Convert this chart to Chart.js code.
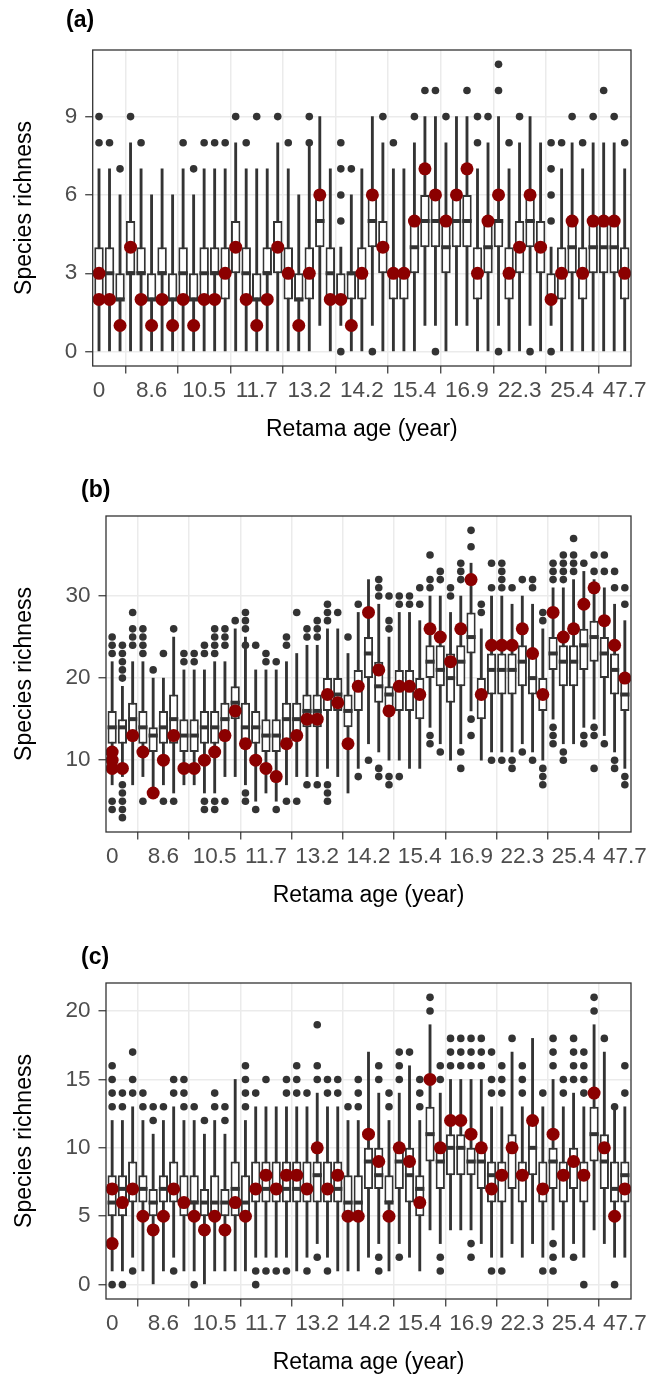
<!DOCTYPE html>
<html lang="en">
<head>
<meta charset="UTF-8">
<title>Species richness by Retama age</title>
<script src="https://cdn.jsdelivr.net/npm/chart.js"></script>
<style>
  body { margin: 0; background: #fff; font-family: 'Liberation Sans', Arial, sans-serif; }
  .page { position: relative; width: 650px; height: 1381px; overflow: hidden; }
  .panel { position: absolute; left: 0; }
  .tag { position: absolute; font-weight: bold; font-size: 23px; line-height: 1; color: #000; }
</style>
</head>
<body>
<div class="page">
  <canvas class="panel" id="chartA" width="650" height="448" style="top:0"></canvas>
  <canvas class="panel" id="chartB" width="650" height="448" style="top:466px"></canvas>
  <canvas class="panel" id="chartC" width="650" height="448" style="top:933px"></canvas>
  <div class="tag" style="left:66px; top:8px">(a)</div>
  <div class="tag" style="left:81px; top:478px">(b)</div>
  <div class="tag" style="left:81px; top:945px">(c)</div>
</div>

<script>
// age classes on the x axis, only every 5th one is labelled
const tickLabels = ['0', '8.6', '10.5', '11.7', '13.2', '14.2', '15.4', '16.9', '22.3', '25.4', '47.7'];
const labelEvery = 5;

// box stats per age class: [lower whisker, q1, median, q3, upper whisker]
const statsA = [
  [0,2,3,4,7],[0,2,3,4,7],[0,2,2,3,6],[0,3,3,5,8],[0,3,3,4,7],[0,2,2,3,6],[0,3,3,4,7],[0,2,2,3,6],[0,2,3,4,7],[0,2,2,3,6],
  [0,2,3,4,7],[0,3,3,4,7],[0,2,3,4,7],[0,3,4,5,8],[0,2,3,4,7],[0,2,2,3,7],[0,3,3,4,7],[0,3,4,5,8],[0,2,3,4,7],[0,2,2,3,6],
  [0,2,3,4,8],[1,4,5,6,9],[0,2,3,4,7],[1,2,2,3,4],[0,2,3,3,6],[0,2,3,4,7],[1,4,5,6,9],[0,3,4,5,8],[0,2,3,3,7],[0,2,3,3,7],
  [0,3,4,5,8],[1,4,5,6,9],[1,4,5,6,9],[0,3,4,5,8],[1,4,5,6,9],[1,4,5,6,9],[0,2,3,4,7],[0,3,4,5,8],[1,4,5,5,9],[0,2,3,4,7],
  [0,3,4,5,8],[1,4,5,6,9],[0,3,4,5,8],[1,2,2,3,4],[0,2,3,4,7],[0,3,4,5,8],[0,2,3,4,7],[0,3,4,5,8],[0,3,4,5,8],[0,3,4,5,8],
  [0,2,3,4,7]
];
const outliersA = [
  [9,8],[8],[7],[9],[8],[],[],[],[8],[7],
  [8],[8],[8],[9],[8],[9],[],[9],[8],[],
  [9,8],[],[],[8,7,6,5,0],[7],[],[0],[9],[8],[],
  [9],[10],[10,0],[9],[],[10],[9,8],[9],[11,10,0],[8],
  [9],[0],[],[8,7,6,5,0],[8],[9],[8],[9],[10],[9],
  [8]
];
const observedA = [
  [3,2],[2],[1],[4],[2],[1],[2],[1],[2],[1],
  [2],[2],[3],[4],[2],[1],[2],[4],[3],[1],
  [3],[6],[2],[2],[1],[3],[6],[4],[3],[3],
  [5],[7],[6],[5],[6],[7],[3],[5],[6],[3],
  [4],[6],[4],[2],[3],[5],[3],[5],[5],[5],
  [3]
];

const statsB = [
  [7,12,14,16,22],[8,12,14,15,19],[7,13,15,17,22],[8,12,14,16,22],[6,11,13,14,20],[7,12,14,16,20],[6,12,15,18,25],[7,11,13,15,21],[7,11,13,15,21],[6,12,14,16,21],
  [6,12,14,16,22],[8,13,15,17,22],[8,15,17,19,26],[7,12,14,17,25],[5,12,14,16,21],[6,11,13,15,21],[5,11,13,15,21],[7,12,15,17,22],[8,13,15,17,23],[8,14,16,18,24],
  [8,14,16,18,24],[9,16,18,20,26],[8,16,18,20,26],[6,14,16,18,23],[9,16,19,21,28],[12,20,23,25,32],[11,17,19,22,29],[10,16,18,19,25],[10,16,19,21,28],[9,16,19,21,28],
  [9,15,18,20,27],[14,20,22,24,30],[12,19,21,24,30],[10,17,20,23,28],[12,19,22,24,30],[16,23,25,28,34],[10,15,18,20,26],[11,18,21,23,30],[11,18,21,23,30],[11,18,21,23,29],
  [12,19,22,24,30],[11,18,20,23,29],[10,16,18,20,26],[15,21,23,25,31],[12,19,22,24,31],[12,19,22,24,32],[14,21,24,26,33],[15,22,25,27,32],[13,20,23,25,31],[11,18,21,23,29],
  [9,16,18,20,27]
];
const outliersB = [
  [25,24,23,5,4],[24,23,22,21,20,7,6,5,4,3],[28,26,25,24],[26,25,24,23,5],[21],[23,5],[26,5],[23,22],[23,22],[24,23,5,4],
  [26,25,24,23,5,4],[26,25,24,5],[27],[28,27,26,24,6,5],[24,4],[23,22],[22,4],[25,24,5],[28,5],[26,25,7],
  [27,26,25,7],[29,28,27,7,6,5],[28],[25],[29,8],[10],[32,31,30,9,8],[30,27,26,8,7],[30,29,8],[30,29],
  [31,29],[35,32,31,13,12],[33,32,11],[31,30],[34,33,32,11,9],[38,36,15,13],[29,28],[34,31,10],[34,33,32,31,10],[31,10,9],
  [32,11],[32,31,10],[28,27,9,8,7],[34,33,32,14,13,12],[35,34,33,32,11,10],[37,35,34,33],[34,13,12],[35,33,14,13,9],[35,33,12],[33,31,10,9],
  [31,29,8,7]
];
const observedB = [
  [11,10,9],[9],[13],[11],[6],[10],[13],[9],[9],[10],
  [11],[13],[16],[12],[10],[9],[8],[12],[13],[15],
  [15],[18],[17],[12],[19],[28],[21],[16],[19],[19],
  [18],[26],[25],[22],[26],[32],[18],[24],[24],[24],
  [26],[23],[18],[28],[25],[26],[29],[31],[27],[24],
  [20]
];

const statsC = [
  [1,5,6,8,12],[1,5,7,8,12],[2,6,7,9,13],[1,6,7,8,12],[0,5,6,7,11],[1,6,7,8,12],[2,6,7,9,13],[1,5,6,8,12],[1,6,6,8,12],[0,5,6,7,11],
  [1,5,6,8,12],[1,5,6,7,11],[1,5,7,9,15],[1,5,6,8,12],[2,6,7,9,13],[2,6,7,9,13],[2,6,7,9,13],[2,6,7,9,13],[1,6,7,9,13],[2,6,7,9,13],
  [3,6,8,9,14],[2,6,7,9,13],[1,6,7,9,13],[1,5,6,8,12],[1,5,6,8,12],[2,7,9,10,17],[3,7,8,10,14],[1,6,6,8,12],[3,7,9,10,14],[2,6,8,10,16],
  [1,5,7,8,12],[4,9,11,13,19],[3,7,9,10,14],[4,8,10,11,15],[4,8,10,11,15],[4,8,9,10,15],[3,7,9,10,15],[2,6,8,9,13],[2,6,8,9,13],[3,7,10,11,17],
  [2,6,8,9,13],[3,8,10,12,18],[2,6,7,9,13],[4,7,9,10,15],[2,6,8,9,13],[3,7,9,10,14],[2,6,8,9,13],[4,9,11,13,19],[3,7,9,11,17],[2,6,7,9,13],
  [2,6,8,9,13]
];
const outliersC = [
  [16,15,14,13,0],[14,13,0],[17,15,14,1],[14,13],[13,12],[13],[15,14,1],[15,14,13],[13,0],[12],
  [14,13],[13,12],[],[16,15,14,13],[14,1,0],[15,1],[1],[15,14,1],[16,15,14],[14,1],
  [19,16,15,2],[15,14,1],[15,14],[13],[15,14,13],[],[16,15,2,1],[14,13],[17,16,15,2],[17],
  [15,14,13],[21,20],[16,15,2,1],[18,17,16],[18,17,16],[18,17,16,3,2],[18,17,16],[17,15,14,1],[16,15,14,1],[18],
  [16,15,14],[],[14,1],[18,17,16,3,2,1],[15,14],[18,17,16,15,2],[17,16,15,14,0],[21,20],[18],[13,0],
  [16,14]
];
const observedC = [
  [7,3],[6],[7],[5],[4],[5],[7],[6],[5],[4],
  [5],[4],[6],[5],[7],[8],[7],[8],[8],[7],
  [10],[7],[8],[5],[5],[11],[9],[5],[10],[9],
  [6],[15],[10],[12],[12],[11],[10],[7],[8],[10],
  [8],[12],[7],[11],[8],[9],[8],[14],[10],[5],
  [7]
];

Chart.defaults.font.family = "'Liberation Sans', Arial, sans-serif";

const INK = '#333333';
const OBS_RED = '#8b0000';

// frame around the plotting area, drawn on top of the marks
const panelBorder = {
  id: 'panelBorder',
  afterDatasetsDraw(chart) {
    const { ctx, chartArea: a } = chart;
    ctx.save();
    ctx.strokeStyle = INK;
    ctx.lineWidth = 1.3;
    ctx.strokeRect(a.left, a.top, a.right - a.left, a.bottom - a.top);
    ctx.restore();
  }
};

function boxWidth(chart) {
  const x = chart.scales.x;
  return x.getPixelForValue(1) - x.getPixelForValue(0);
}

// yAxisWidth keeps the plotting areas of the three panels aligned on the right
function drawPanel(id, stats, outliers, observed, yMin, yMax, yTicks, yAxisWidth) {
  const whiskers = stats.map((s, i) => ({ x: i, y: [s[0], s[4]] }));
  const boxes = stats.map((s, i) => ({ x: i, y: [s[1], s[3]] }));
  const medians = stats.map((s, i) => ({ x: i, y: s[2] }));
  const outPts = outliers.flatMap((vals, i) => vals.map(v => ({ x: i, y: v })));
  const obsPts = observed.flatMap((vals, i) => vals.map(v => ({ x: i, y: v })));

  new Chart(document.getElementById(id), {
    type: 'bar',
    data: {
      datasets: [
        { type: 'bar', data: whiskers, grouped: false, barThickness: 2.2, backgroundColor: INK, order: 5 },
        { type: 'bar', data: boxes, grouped: false, categoryPercentage: 1, barPercentage: 0.9,
          backgroundColor: '#ffffff', borderColor: INK, borderWidth: 2, borderSkipped: false, order: 4 },
        { type: 'scatter', data: medians, pointStyle: 'line',
          pointBorderColor: INK, pointBorderWidth: 4,
          pointRadius: ctx => boxWidth(ctx.chart) * 0.45, order: 3 },
        { type: 'scatter', data: outPts, pointRadius: 3.8,
          pointBackgroundColor: INK, pointBorderWidth: 0, order: 2 },
        { type: 'scatter', data: obsPts, pointRadius: 6.5,
          pointBackgroundColor: OBS_RED, pointBorderWidth: 0, order: 1 }
      ]
    },
    options: {
      responsive: false,
      animation: false,
      events: [],
      layout: { padding: { left: 0, right: 19, top: 50, bottom: 6.5 } },
      plugins: { legend: { display: false }, tooltip: { enabled: false } },
      scales: {
        x: {
          type: 'linear',
          min: -0.6,
          max: stats.length - 0.4,
          offset: false,
          afterBuildTicks: axis => {
            axis.ticks = tickLabels.map((_, k) => ({ value: k * labelEvery }));
          },
          afterFit: axis => {
            axis.height = 75.5;
            axis.paddingLeft = 0;
            axis.paddingRight = 0;
          },
          ticks: {
            autoSkip: false, maxRotation: 0, padding: 6.5, color: '#4d4d4d',
            font: { size: 22.5, lineHeight: 1 },
            callback: (v, i) => tickLabels[i]
          },
          grid: { color: '#ebebeb', lineWidth: 1.5, tickColor: INK, tickLength: 7.5, tickWidth: 1.2 },
          border: { display: false },
          title: { display: true, text: 'Retama age (year)', color: '#000', font: { size: 23, lineHeight: 1 }, padding: 0 }
        },
        y: {
          min: yMin,
          max: yMax,
          afterBuildTicks: axis => {
            axis.ticks = yTicks.map(v => ({ value: v }));
          },
          afterFit: axis => {
            axis.width = yAxisWidth;
            axis.paddingTop = 0;
            axis.paddingBottom = 0;
          },
          ticks: { padding: 8, color: '#4d4d4d', font: { size: 22.5 } },
          grid: { color: '#ebebeb', lineWidth: 1.5, tickColor: INK, tickLength: 7.5, tickWidth: 1.2 },
          border: { display: false },
          title: { display: true, text: 'Species richness', color: '#000', font: { size: 23, lineHeight: 1 },
                   padding: { top: 13.5, bottom: 0 } }
        }
      }
    },
    plugins: [panelBorder]
  });
}

drawPanel('chartA', statsA, outliersA, observedA, -0.55, 11.55, [0, 3, 6, 9], 92.7);
drawPanel('chartB', statsB, outliersB, observedB, 1.25, 39.75, [10, 20, 30], 106);
drawPanel('chartC', statsC, outliersC, observedC, -1.05, 22.05, [0, 5, 10, 15, 20], 106);
</script>
</body>
</html>
